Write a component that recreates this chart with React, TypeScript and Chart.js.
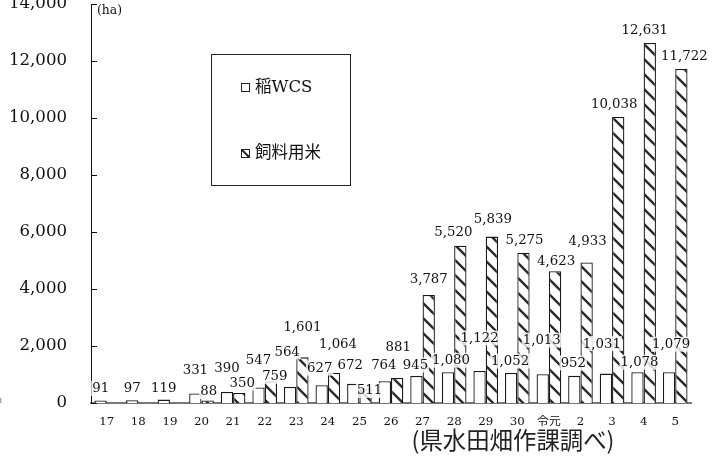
import React, { useEffect, useRef } from "react";
import { Chart, registerables } from "chart.js";

Chart.register(...registerables);

// ---- data ----
const categories = ["17", "18", "19", "20", "21", "22", "23", "24", "25", "26", "27", "28", "29", "30", "令元", "2", "3", "4", "5"];
const wcsValues = [91, 97, 119, 331, 390, 547, 564, 627, 672, 764, 945, 1080, 1122, 1052, 1013, 952, 1031, 1078, 1079];
const feedRiceValues: (number | null)[] = [null, null, null, 88, 350, 759, 1601, 1064, 511, 881, 3787, 5520, 5839, 5275, 4623, 4933, 10038, 12631, 11722];
const yTickValues = [0, 2000, 4000, 6000, 8000, 10000, 12000, 14000];
const seriesNames = ["稲WCS", "飼料用米"];
const unitText = "(ha)";
const sourceText = "(県水田畑作課調べ)";

// ---- label placement nudges (px, relative to bar top centre) ----
const wcsLabelDx = [0, 0, 0, 0, 0, 0, -3, -2, -3, -1, -1, 3, 0, -1, -1, -1, -4, 2, 2];
const wcsLabelDy = [-12, -12, -12, -24, -24, -27, -35, -17, -19, -16, -11, -12, -33, -12, -34, -13, -30, -10, -28];
const feedLabelDx = [0, 0, 0, 1, 3, 4, 0, 4, 4, 1, 0, -7, 1, 1, 1, 1, -4, -5, 3];
const feedLabelDy = [0, 0, 0, -9, -10, -5, -30, -29, 2, -31, -16, -14, -18, -13, -10, -21, -13, -13, -13];

const SERIF = "'DejaVu Serif', 'Noto Sans CJK JP', serif";
const SANS_JP = "'Noto Sans CJK JP', sans-serif";
const fmt = (v: number) => v.toLocaleString("en-US");

function fitSize(text: string, family: string, target: number, fallback: number): number {
  const c = document.createElement("canvas");
  const g = c.getContext("2d");
  if (!g) return fallback;
  g.font = `100px ${family}`;
  const w = g.measureText(text).width;
  if (!w) return fallback;
  return Math.round((100 * target) / w * 10) / 10;
}

function makeHatch(): CanvasPattern | string {
  const s = 15;
  const c = document.createElement("canvas");
  c.width = s;
  c.height = s;
  const g = c.getContext("2d");
  if (!g) return "#888";
  g.fillStyle = "#fff";
  g.fillRect(0, 0, s, s);
  g.strokeStyle = "#2a2a2a";
  g.lineWidth = 2.4;
  g.beginPath();
  for (const k of [-s, 0, s]) {
    g.moveTo(k - 2, -2);
    g.lineTo(k + s + 2, s + 2);
  }
  g.stroke();
  return g.createPattern(c, "repeat") || "#888";
}

export default function App() {
  const ref = useRef<HTMLCanvasElement | null>(null);
  useEffect(() => {
    if (!ref.current) return;
    const hatch = makeHatch();
    const ySize = fitSize("12,000", SERIF, 58, 16);
    const xSize = fitSize("1718192021", SERIF, 75, 12);
    const labelSize = fitSize("12,631", SERIF, 46.5, 13);
    const legendSize = fitSize("WCS", SERIF, 41, 17);
    const unitSize = fitSize(unitText, SERIF, 25, 13);
    const sourceSize = fitSize(sourceText, SANS_JP, 203, 21);

    const overlayPlugin = {
      id: "overlay",
      afterDatasetsDraw(chart: any) {
        const ctx: CanvasRenderingContext2D = chart.ctx;
        ctx.save();
        ctx.font = `${labelSize}px ${SERIF}`;
        ctx.textAlign = "center";
        ctx.textBaseline = "middle";
        const sets = [
          { values: wcsValues, dx: wcsLabelDx, dy: wcsLabelDy },
          { values: feedRiceValues, dx: feedLabelDx, dy: feedLabelDy },
        ];
        sets.forEach((s, di) => {
          const meta = chart.getDatasetMeta(di);
          meta.data.forEach((el: any, i: number) => {
            const v = s.values[i];
            if (v === null || v === undefined) return;
            const txt = fmt(v);
            const x = el.x + s.dx[i];
            const y = el.y + s.dy[i];
            const w = ctx.measureText(txt).width + 2;
            ctx.fillStyle = "rgba(255,255,255,0.82)";
            ctx.fillRect(x - w / 2, y - 7.5, w, 15);
            ctx.fillStyle = "#111";
            ctx.fillText(txt, x, y + 0.5);
          });
        });
        ctx.restore();
      },
      afterDraw(chart: any) {
        const ctx: CanvasRenderingContext2D = chart.ctx;
        const area = chart.chartArea;
        const ys = chart.scales.y;
        ctx.save();
        ctx.strokeStyle = "#111";
        ctx.lineWidth = 1;
        yTickValues.forEach((v) => {
          const py = Math.round(ys.getPixelForValue(v)) + 0.5;
          ctx.beginPath();
          ctx.moveTo(area.left, py);
          ctx.lineTo(area.left + 6, py);
          ctx.stroke();
        });
        ctx.fillStyle = "#111";
        ctx.font = `${unitSize}px ${SERIF}`;
        ctx.textAlign = "left";
        ctx.textBaseline = "middle";
        ctx.fillText(unitText, 97, 11);

        // small mark at left edge
        ctx.fillStyle = "#aaa";
        ctx.fillRect(0, 398, 1.5, 5);

        ctx.strokeStyle = "#222";
        ctx.lineWidth = 1;
        ctx.strokeRect(211.5, 54.5, 139, 131);
        ctx.fillStyle = "#fff";
        ctx.fillRect(241.5, 83.5, 8, 8);
        ctx.strokeRect(241.5, 83.5, 8, 8);
        ctx.fillRect(241.5, 149.5, 8, 8);
        ctx.strokeRect(241.5, 149.5, 8, 8);
        ctx.beginPath();
        ctx.lineWidth = 2;
        ctx.moveTo(242, 150);
        ctx.lineTo(249, 157);
        ctx.stroke();
        ctx.fillStyle = "#111";
        ctx.font = `${legendSize}px ${SERIF}`;
        ctx.textBaseline = "middle";
        ctx.fillText(seriesNames[0], 255, 87.5);
        ctx.fillText(seriesNames[1], 255, 153.5);

        ctx.font = `${sourceSize}px ${SANS_JP}`;
        ctx.textAlign = "center";
        ctx.fillStyle = "#222";
        ctx.fillText(sourceText, 513, 440);
        ctx.restore();
      },
    };

    const chart = new Chart(ref.current, {
      type: "bar",
      data: {
        labels: categories,
        datasets: [
          {
            label: seriesNames[0],
            data: wcsValues,
            backgroundColor: "#fff",
            borderColor: "#1a1a1a",
            borderWidth: 1.3,
            categoryPercentage: 0.78,
            barPercentage: 1,
          },
          {
            label: seriesNames[1],
            data: feedRiceValues as any,
            backgroundColor: hatch as any,
            borderColor: "#1a1a1a",
            borderWidth: 1.3,
            categoryPercentage: 0.78,
            barPercentage: 1,
          },
        ],
      },
      options: {
        responsive: false,
        animation: false,
        layout: { padding: { top: 4, right: 24, left: 0, bottom: 0 } },
        plugins: { legend: { display: false }, tooltip: { enabled: false } },
        scales: {
          x: {
            grid: { display: false, drawTicks: false },
            border: { display: true, color: "#777", width: 2 },
            ticks: {
              padding: 12,
              color: "#111",
              font: { family: SERIF, size: xSize },
              maxRotation: 0,
              autoSkip: false,
            },
            afterFit(scale: any) {
              scale.height = 60;
              scale.paddingLeft = 0;
              scale.paddingRight = 0;
            },
          },
          y: {
            min: 0,
            max: 14000,
            grid: { display: false, drawTicks: false },
            border: { display: true, color: "#111", width: 1 },
            afterBuildTicks(scale: any) {
              scale.ticks = yTickValues.map((v) => ({ value: v }));
            },
            ticks: {
              padding: 24,
              color: "#111",
              font: { family: SERIF, size: ySize },
              callback: (v: any) => fmt(Number(v)),
            },
            afterFit(scale: any) {
              scale.width = 91;
              scale.paddingTop = 0;
              scale.paddingBottom = 0;
            },
          },
        },
      },
      plugins: [overlayPlugin],
    });
    return () => chart.destroy();
  }, []);
  return (
    <div style={{ position: "fixed", left: 0, top: 0, width: 715, height: 463, background: "#fff" }}>
      <canvas ref={ref} width={715} height={463} style={{ display: "block" }} />
    </div>
  );
}
